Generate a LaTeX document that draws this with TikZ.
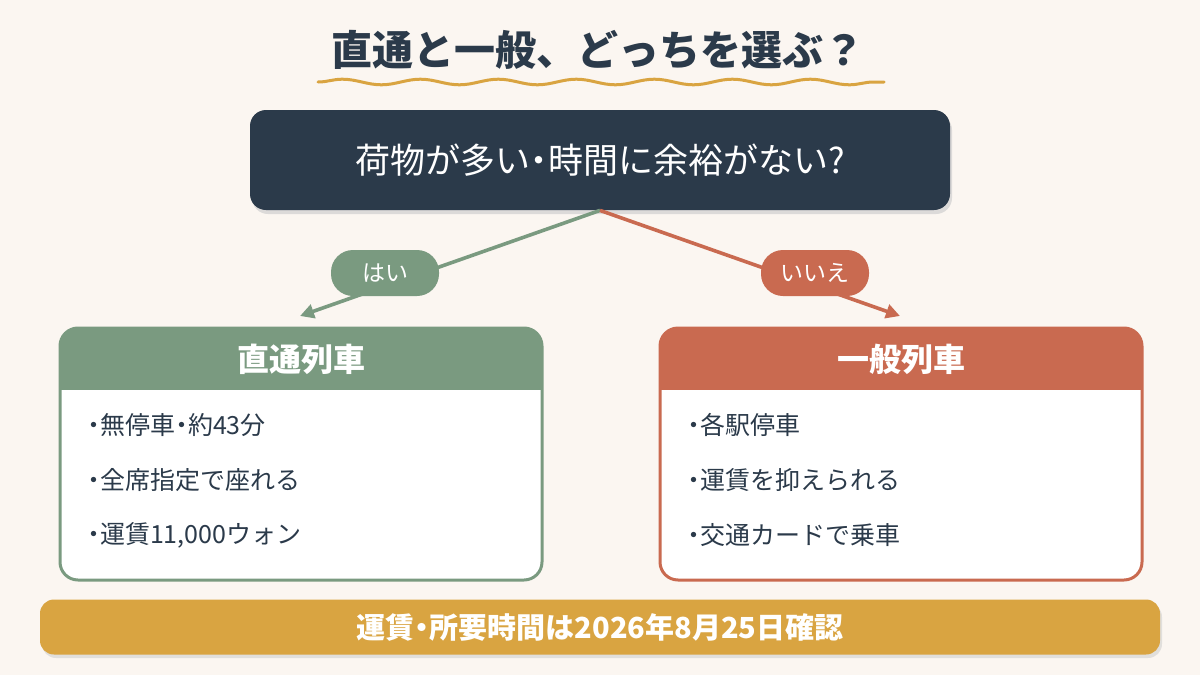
\documentclass[tikz,border=0pt]{standalone}
\usepackage{fontspec}
\setmainfont{Noto Sans CJK JP}
\usepackage{tikz}
\usetikzlibrary{arrows.meta,decorations.pathmorphing}

\definecolor{bgcream}{HTML}{FBF6F1}
\definecolor{navy}{HTML}{2B3A4A}
\definecolor{sage}{HTML}{7A9A80}
\definecolor{brick}{HTML}{C96A50}
\definecolor{gold}{HTML}{D9A441}

% narrow middle dot
\newcommand{\ndot}{\kern-.24em・\kern-.24em}

\tikzset{
  pill/.style={fill=#1, rounded corners=11pt, text=white, font=\fontsize{11.5}{12}\selectfont,
    minimum width=54pt, minimum height=23pt, inner sep=0pt},
  item/.style={anchor=west, text=navy, font=\fontsize{12.5}{14}\selectfont},
  head/.style={text=white, font=\bfseries\fontsize{16}{18}\selectfont}
}

\begin{document}
\begin{tikzpicture}[x=0.5pt,y=-0.5pt]
	\useasboundingbox[fill=bgcream] (0,0) rectangle (1200,675);
	% title
	\node[text=navy, font=\bfseries\fontsize{20.5}{22}\selectfont] (title) at (598,50) {直通と一般、どっちを選ぶ？};
	\draw[gold, line width=1.5pt, line cap=round, decorate,
	  decoration={snake, amplitude=1.4pt, segment length=39pt}] (318,82) -- (884,82);
	% question
	\fill[navy!60, opacity=.25, rounded corners=8pt] (252,114) rectangle (952,214);
	\node[fill=navy, rounded corners=8pt, minimum width=350pt, minimum height=50pt,
	  text=white, font=\fontsize{17.5}{19}\selectfont] (q) at (600,160) {荷物が多い\ndot 時間に余裕がない?};
	% branches
	\coordinate (yesend) at (300,316);
	\coordinate (noend) at (900,316);
	\draw[sage, line width=1.8pt, -{Triangle[length=7pt,width=7pt]}] (q.south) -- (yesend);
	\draw[brick, line width=1.8pt, -{Triangle[length=7pt,width=7pt]}] (q.south) -- (noend);
	\node[pill=sage] (yes) at (385,273) {はい};
	\node[pill=brick] (no) at (815,273) {いいえ};
	% left box
	\begin{scope}
		\clip[rounded corners=9pt] (60,328) rectangle (542,580);
		\fill[white] (60,328) rectangle (542,580);
		\fill[sage] (60,328) rectangle (542,390);
	\end{scope}
	\draw[sage, line width=1.5pt, rounded corners=9pt] (60,328) rectangle (542,580);
	\node[head] (lhead) at (301,359) {直通列車};
	\node[item] (l1) at (80,425) {\ndot 無停車\ndot 約43分};
	\node[item] (l2) at (80,480) {\ndot 全席指定で座れる};
	\node[item] (l3) at (80,535) {\ndot 運賃11,000ウォン};
	% right box
	\begin{scope}
		\clip[rounded corners=9pt] (660,328) rectangle (1142,580);
		\fill[white] (660,328) rectangle (1142,580);
		\fill[brick] (660,328) rectangle (1142,390);
	\end{scope}
	\draw[brick, line width=1.5pt, rounded corners=9pt] (660,328) rectangle (1142,580);
	\node[head] (rhead) at (901,359) {一般列車};
	\node[item] (r1) at (680,425) {\ndot 各駅停車};
	\node[item] (r2) at (680,480) {\ndot 運賃を抑えられる};
	\node[item] (r3) at (680,535) {\ndot 交通カードで乗車};
	% footer
	\fill[navy, opacity=.12, rounded corners=7pt] (42,603) rectangle (1162,658);
	\node[fill=gold, rounded corners=7pt, minimum width=560pt, minimum height=27.5pt,
	  text=white, font=\bfseries\fontsize{14.5}{16}\selectfont] (note) at (600,627) {運賃\ndot 所要時間は2026年8月25日確認};
\end{tikzpicture}
\end{document}
